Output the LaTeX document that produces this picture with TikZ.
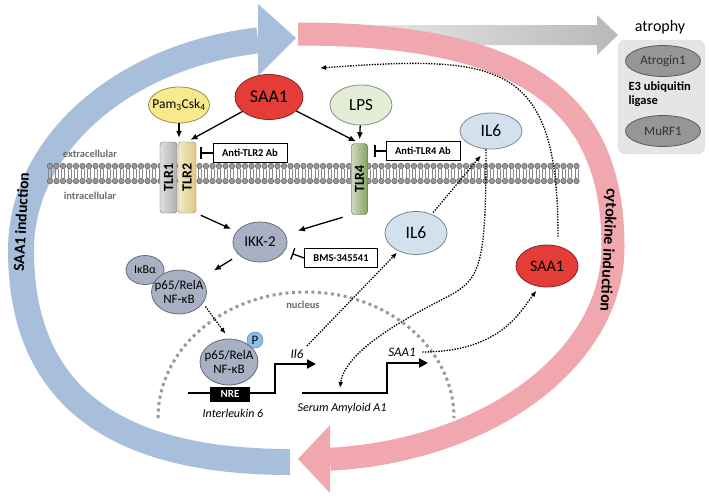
\documentclass[tikz,border=0pt]{standalone}
\usepackage{fontspec}
\setmainfont{Carlito}
\usetikzlibrary{shapes.geometric}
\usetikzlibrary{arrows.meta}

\definecolor{bandblue}{RGB}{167,191,219}
\definecolor{bandpink}{RGB}{240,167,173}
\definecolor{saared}{RGB}{228,60,55}
\definecolor{pamyel}{RGB}{248,233,140}
\definecolor{lpsgreen}{RGB}{227,237,213}
\definecolor{ilblue}{RGB}{211,224,237}
\definecolor{nfgrey}{RGB}{168,177,195}
\definecolor{phosblue}{RGB}{140,192,234}
\definecolor{tlrgrey}{RGB}{175,175,175}
\definecolor{tlryel}{RGB}{222,201,125}
\definecolor{tlrgreen}{RGB}{135,162,100}
\definecolor{lipidgrey}{RGB}{135,135,135}
\definecolor{e3grey}{RGB}{150,150,150}

\begin{document}
\begin{tikzpicture}[x=1pt,y=-1pt,
  mol/.style={ellipse, draw=#1!60!black, fill=#1, line width=0.8pt, inner sep=-5pt},
  drug/.style={draw, fill=white, line width=0.8pt, inner xsep=3pt, inner ysep=0pt,
    minimum height=19, font=\bfseries\fontsize{10.5}{12}\selectfont},
  tlr/.style={draw=#1!60!black, left color=#1!40!white, right color=#1, rounded corners=3pt,
    inner sep=0pt, minimum height=71, font=\bfseries\fontsize{14}{14}\selectfont},
  arr/.style={-{Latex[length=7pt,width=6pt]}, line width=1.3pt},
  dotarr/.style={-{Latex[length=6pt,width=5pt]}, line width=1.35pt, dash pattern=on 1.35pt off 1.35pt},
  inhib/.style={-{Bar[width=12pt]}, line width=1.3pt},
  gene/.style={-{Triangle[length=9pt,width=9pt]}, line width=2.2pt},
  memtxt/.style={text=black!58, font=\bfseries\fontsize{10.5}{12}\selectfont},
  genetxt/.style={font=\itshape\fontsize{12}{14}\selectfont}
]
\useasboundingbox (0,0) rectangle (709,499);

% grey arrow towards atrophy
\shade[left color=gray!10, right color=gray!55]
  (300,25) -- (597,25) -- (597,15) -- (618,35) -- (597,55) -- (597,45) -- (300,45) -- cycle;

% SAA1 induction (blue) and cytokine induction (pink)
\draw[bandblue, line width=26pt] (290,462) .. controls (110,462) and (21,392) .. (21,250)
  arc[start angle=180, end angle=98.66, x radius=279pt, y radius=212pt];
\fill[bandblue] (258,4) -- (296,38) -- (258,76) -- cycle;
\draw[bandpink, line width=23pt] (298,34) .. controls (521,34) and (613,98) .. (613,247)
  arc[start angle=0, end angle=-85.34, x radius=308pt, y radius=213pt];
\fill[bandpink] (330,425) -- (298,459) -- (330,493) -- cycle;
\node[rotate=87, font=\bfseries\fontsize{15.5}{16}\selectfont] (saaind) at (21,222) {SAA1 induction};
\node[rotate=-93, font=\bfseries\fontsize{16}{16}\selectfont] (cytind) at (608,250) {cytokine induction};

% atrophy
\node[fill=gray!20, draw=gray!28, rounded corners=8pt, minimum width=87, minimum height=114] (e3box) at (661.5,97) {};
\node[font=\fontsize{16}{16}\selectfont] (atr) at (660,27) {atrophy};
\node[mol=e3grey, text=black!80, minimum width=75, minimum height=31, font=\fontsize{13}{13}\selectfont] (atrogin) at (663,61) {Atrogin1};
\node[anchor=west, align=left, font=\bfseries\fontsize{12.5}{14}\selectfont] (e3) at (625,94) {E3 ubiquitin\\ligase};
\node[mol=e3grey, text=black!80, minimum width=75, minimum height=31, font=\fontsize{13}{13}\selectfont] (murf) at (663,131) {MuRF1};

% membrane
\foreach \x in {50,56.5,...,577}{
  \draw[lipidgrey, line width=0.6pt] (\x-1.3,169) -- (\x-1.3,178) (\x+1.3,169) -- (\x+1.3,178);
  \filldraw[fill=lipidgrey!85, draw=lipidgrey!60!black, line width=0.4pt]
    (\x,166) circle[radius=2.8pt] (\x,181) circle[radius=2.8pt];
}
\node[memtxt] (extxt) at (90,154) {extracellular};
\node[memtxt] (intxt) at (90,196) {intracellular};

% nucleus
\draw[gray!80, line width=3pt, dash pattern=on 3pt off 3.5pt] (158,418)
  arc[start angle=180, end angle=0, x radius=148pt, y radius=126pt];
\node[memtxt] (nuctxt) at (303,305) {nucleus};

% receptors and ligands
\node[tlr=tlrgrey, minimum width=17] (tlr1) at (168.5,177.5) {\rotatebox{90}{TLR1}};
\node[tlr=tlryel, minimum width=18] (tlr2) at (187,177.5) {\rotatebox{90}{TLR2}};
\node[tlr=tlrgreen, minimum width=16] (tlr4) at (359.5,179) {\rotatebox{90}{TLR4}};
\node[mol=pamyel, minimum width=56, minimum height=36, font=\fontsize{13.5}{13.5}\selectfont] (pam) at (179,105) {Pam\textsubscript{3}Csk\textsubscript{4}};
\node[mol=saared, minimum width=68, minimum height=45, font=\fontsize{18}{18}\selectfont] (saa) at (269,97) {SAA1};
\node[mol=lpsgreen, minimum width=62, minimum height=40, font=\fontsize{17}{17}\selectfont] (lps) at (361,105) {LPS};
\node[drug, minimum width=74] (ab2) at (250,153) {Anti-TLR2 Ab};
\node[drug, minimum width=74] (ab4) at (423,151) {Anti-TLR4 Ab};
\node[mol=ilblue, minimum width=62, minimum height=36, font=\fontsize{17.5}{17.5}\selectfont] (il6t) at (491,131) {IL6};

% cytoplasm
\node[mol=nfgrey, minimum width=54, minimum height=40, font=\fontsize{15}{15}\selectfont] (ikk) at (260,242) {IKK-2};
\node[drug, minimum width=73] (bms) at (341,258) {BMS-345541};
\node[mol=ilblue, minimum width=62, minimum height=43, font=\fontsize{17.5}{17.5}\selectfont] (il6m) at (416,233) {IL6};
\node[mol=nfgrey, minimum width=38, minimum height=29, font=\fontsize{12}{12}\selectfont] (ikb) at (145,270) {IκBα};
\node[mol=nfgrey, minimum width=54, minimum height=44, align=center, font=\fontsize{13}{14}\selectfont] (p65c) at (179,292) {p65/RelA\\NF-κB};
\node[mol=saared, minimum width=62, minimum height=42, font=\fontsize{16}{16}\selectfont] (saar) at (547,266) {SAA1};

% nucleus contents
\node[mol=nfgrey, minimum width=58, minimum height=46, align=center, font=\fontsize{13}{14}\selectfont] (p65n) at (229,362) {p65/RelA\\NF-κB};
\node[circle, draw=phosblue!60!black, fill=phosblue, minimum size=16, inner sep=0pt, font=\fontsize{13}{13}\selectfont] (phos) at (255,340) {P};
\draw[gene] (188,393) -- (275,393) -- (275,364) -- (316,364);
\node[fill=black, text=white, minimum width=40, minimum height=15, inner sep=0pt, font=\bfseries\fontsize{11}{11}\selectfont] (nre) at (230,394) {NRE};
\draw[gene] (302,393) -- (387,393) -- (387,363) -- (428,363);
\node[genetxt, font=\itshape\fontsize{13}{13}\selectfont] (il6txt) at (297,354) {Il6};
\node[genetxt] (il6name) at (233,413) {Interleukin 6};
\node[genetxt, font=\itshape\fontsize{13}{13}\selectfont] (saatxt) at (402,352) {SAA1};
\node[genetxt] (saaname) at (342,408) {Serum Amyloid A1};
\coordinate (saaprom) at (340,388);
\coordinate (fb) at (320,68);

% signalling
\draw[arr, shorten >=4pt] (pam.south) -- (pam.south |- tlr1.north);
\draw[arr, shorten >=4pt] (saa) -- (tlr2.north);
\draw[arr, shorten >=4pt] (saa) -- (tlr4.north);
\draw[arr, shorten >=4pt] (lps) -- (tlr4.north);
\draw[inhib, shorten >=4pt] (ab2.west) -- (ab2.west -| tlr2.east);
\draw[inhib, shorten >=6.5pt] (ab4.west) -- (ab4.west -| tlr4.east);
\draw[arr, shorten <=5pt, shorten >=6pt] (tlr2.south east) -- (ikk);
\draw[arr, shorten <=9pt, shorten >=13pt] (tlr4.south west) -- (ikk);
\draw[inhib, shorten >=8pt] (bms.west) -- (ikk);
\draw[arr, shorten <=8pt, shorten >=15pt] (ikk) -- (p65c);
\draw[dotarr, shorten <=4pt, shorten >=6pt] (p65c.-25) -- (p65n.north);

% secretion and feedback
\draw[dotarr, shorten >=2pt] (il6txt.north east) -- (il6m);
\draw[dotarr, shorten <=2pt, shorten >=8pt] (il6m) -- ([xshift=-5pt]il6t.south);
\draw[dotarr] ([xshift=-5pt]il6t.south) .. controls (486,270) and (480,280) .. (445,298)
  .. controls (410,316) and (345,350) .. (saaprom);
\draw[dotarr, shorten <=3pt, shorten >=5pt] (saatxt.east) .. controls (500,352) and (520,312) .. (saar.250);
\draw[dotarr] ([xshift=11pt,yshift=8pt]saar.north) .. controls (558,60) and (500,55) .. (fb);
\end{tikzpicture}
\end{document}
